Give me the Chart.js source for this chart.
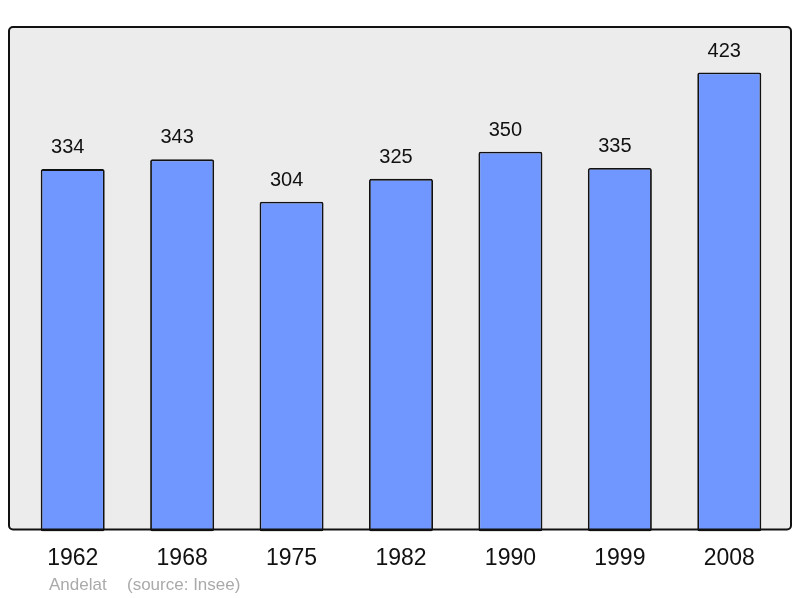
<!DOCTYPE html>
<html>
<head>
<meta charset="utf-8">
<script src="https://cdn.jsdelivr.net/npm/chart.js@4"></script>
<style>
html,body{margin:0;padding:0;background:#fff;}
#wrap{position:relative;width:800px;height:598px;}
</style>
</head>
<body>
<div id="wrap"><canvas id="c" width="800" height="598"></canvas></div>
<script>
const years = ["1962","1968","1975","1982","1990","1999","2008"];
const population = [334,343,304,325,350,335,423];
const yMax = 465;
const placeName = "Andelat";
const sourceText = "(source: Insee)";

const framePlugin = {
  id: 'frame',
  beforeDraw(chart) {
    const {ctx, chartArea: a} = chart;
    ctx.save();
    ctx.beginPath();
    ctx.roundRect(a.left - 9, a.top, (a.right - a.left) + 16, (a.bottom - 2) - a.top, 4);
    ctx.fillStyle = '#ececec';
    ctx.fill();
    ctx.restore();
  },
  afterDatasetsDraw(chart) {
    const {ctx, chartArea: a} = chart;
    ctx.save();
    ctx.beginPath();
    ctx.roundRect(a.left - 9, a.top, (a.right - a.left) + 16, (a.bottom - 2) - a.top, 4);
    ctx.lineWidth = 2;
    ctx.strokeStyle = '#111';
    ctx.stroke();
    // value labels
    const meta = chart.getDatasetMeta(0);
    ctx.fillStyle = '#111';
    ctx.font = '20px "Liberation Sans", Arial, sans-serif';
    ctx.textAlign = 'center';
    ctx.textBaseline = 'middle';
    meta.data.forEach((bar, i) => {
      ctx.fillText(String(population[i]), bar.x - 5, bar.y - 21.5);
    });
    // source
    ctx.fillStyle = '#aaaaaa';
    ctx.font = '17px "Liberation Sans", Arial, sans-serif';
    ctx.textAlign = 'left';
    ctx.textBaseline = 'alphabetic';
    ctx.fillText(placeName, 49, 590);
    ctx.fillText(sourceText, 127, 590);
    ctx.restore();
  }
};

new Chart(document.getElementById('c'), {
  type: 'bar',
  data: {
    labels: years,
    datasets: [{
      data: population,
      backgroundColor: '#7097ff',
      borderColor: '#111',
      borderWidth: 1.8,
      borderRadius: 2,
      borderSkipped: false,
      barPercentage: 0.585,
      categoryPercentage: 1
    }]
  },
  options: {
    responsive: false,
    animation: false,
    devicePixelRatio: 1,
    layout: { padding: { left: 18, right: 16, top: 27, bottom: 13 } },
    plugins: { legend: { display: false }, tooltip: { enabled: false } },
    scales: {
      x: {
        grid: { display: false, drawTicks: false },
        border: { display: false },
        ticks: { color: '#111', font: { size: 23, family: '"Liberation Sans", Arial, sans-serif' }, padding: 13 }
      },
      y: { display: false, min: 0, max: yMax }
    }
  },
  plugins: [framePlugin]
});
</script>
</body>
</html>
